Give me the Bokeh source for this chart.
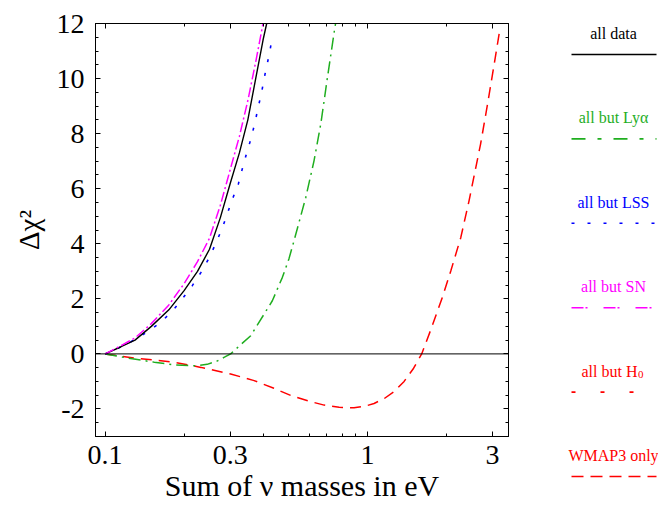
from bokeh.plotting import figure
from bokeh.layouts import row
from bokeh.models import (Range1d, FixedTicker, SingleIntervalTicker, LogAxis, LinearAxis,
                          CustomJSTickFormatter, Span, Label)
from bokeh.embed import file_html
from bokeh.resources import INLINE

# ---------------- data ----------------
all_data_m = [0.10, 0.115, 0.13, 0.15, 0.175, 0.20, 0.225, 0.25, 0.275, 0.30, 0.325, 0.35, 0.375, 0.40, 0.413]
all_data_chi2 = [0.0, 0.26, 0.50, 1.0, 1.6, 2.3, 3.0, 3.8, 4.95, 6.2, 7.3, 8.5, 10.0, 11.4, 12.0]

no_sn_m = [0.10, 0.115, 0.13, 0.15, 0.175, 0.20, 0.225, 0.25, 0.275, 0.30, 0.325, 0.35, 0.375, 0.40]
no_sn_chi2 = [0.0, 0.30, 0.58, 1.10, 1.78, 2.55, 3.35, 4.2, 5.4, 6.7, 7.9, 9.2, 10.6, 12.0]

no_lss_m = [0.10, 0.115, 0.13, 0.146, 0.164, 0.181, 0.198, 0.215, 0.232, 0.249, 0.264, 0.279,
            0.292, 0.306, 0.322, 0.334, 0.347, 0.361, 0.373, 0.384, 0.396, 0.407, 0.425, 0.434]
no_lss_chi2 = [0.0, 0.26, 0.52, 0.82, 1.17, 1.57, 2.03, 2.48, 2.96, 3.48, 4.01, 4.54,
               5.08, 5.63, 6.17, 6.75, 7.32, 7.86, 8.43, 8.98, 9.56, 10.16, 11.0, 11.55]

no_lya_m = [0.10, 0.127, 0.154, 0.183, 0.222, 0.245, 0.267, 0.285, 0.301, 0.324, 0.359, 0.404,
            0.434, 0.474, 0.502, 0.525, 0.582, 0.626, 0.664, 0.704, 0.750, 0.756]
no_lya_chi2 = [0.0, -0.18, -0.30, -0.40, -0.43, -0.38, -0.26, -0.12, 0.0, 0.28, 0.66, 1.45,
               1.93, 2.78, 3.45, 4.11, 5.68, 7.02, 8.35, 10.04, 11.8, 12.0]

wmap_m = [0.10, 0.129, 0.183, 0.232, 0.301, 0.370, 0.440, 0.510, 0.600, 0.684, 0.780, 0.889,
          0.980, 1.06, 1.16, 1.26, 1.38, 1.50, 1.61, 1.74, 1.93, 2.08, 2.27, 2.44, 2.70,
          2.87, 3.04, 3.20]
wmap_chi2 = [0.0, -0.15, -0.30, -0.49, -0.73, -0.97, -1.25, -1.51, -1.72, -1.86, -1.94, -1.96,
             -1.90, -1.80, -1.62, -1.38, -1.00, -0.52, 0.0, 0.85, 2.05, 3.02, 4.23, 5.56, 7.62,
             9.07, 10.5, 11.8]

x_ticks = [0.1, 0.3, 1, 3]
x_minor = [0.2, 0.4, 0.5, 0.6, 0.7, 0.8, 0.9, 2]

legend_labels = ["all data", "all but Ly\u03b1", "all but LSS", "all but SN", "all but H", "WMAP3 only"]
legend_subscripts = ["", "", "", "", "0", ""]

# ---------------- styles ----------------
FONT = "Liberation Serif"
BLACK = "#000000"
GREEN = "#1fae1f"
BLUE = "#0000ff"
MAGENTA = "#ff00ff"
RED = "#ff0000"

legend_colors = [BLACK, GREEN, BLUE, MAGENTA, RED, RED]
legend_dash = ["solid", "14 12 4 12", "3 13", "12 2 2 16", "4 25", "12 7"]

# ---------------- main figure ----------------
p = figure(frame_width=413, frame_height=413, x_axis_type="log",
           x_range=Range1d(0.0919, 3.45), y_range=Range1d(-3, 12),
           output_backend="svg", toolbar_location=None,
           min_border_left=95, min_border_right=12, min_border_top=23, min_border_bottom=60)
p.frame_align = False
p.background_fill_color = "white"
p.border_fill_color = "white"
p.outline_line_color = "black"
p.outline_line_width = 1
p.xgrid.visible = False
p.ygrid.visible = False

xt = FixedTicker(ticks=x_ticks, minor_ticks=x_minor)
p.xaxis.ticker = xt
p.xaxis.formatter = CustomJSTickFormatter(code="return tick.toString();")
p.yaxis.ticker = SingleIntervalTicker(interval=2, num_minor_ticks=4)
p.yaxis.formatter = CustomJSTickFormatter(code="return tick.toFixed(0);")

for ax in (p.xaxis[0], p.yaxis[0]):
    ax.major_tick_in = 5
    ax.major_tick_out = 0
    ax.minor_tick_in = 3
    ax.minor_tick_out = 0
    ax.axis_line_color = "black"
    ax.major_label_text_font = FONT
    ax.major_label_text_font_size = "28px"
    ax.major_label_text_color = "black"
    ax.axis_label_text_font = FONT
    ax.axis_label_text_font_style = "normal"
    ax.axis_label_text_color = "black"

p.xaxis.major_label_standoff = 9
p.xaxis.axis_label = "Sum of \u03bd masses in eV"
p.xaxis.axis_label_text_font_size = "30px"
p.xaxis.axis_label_standoff = 2
p.yaxis.major_label_standoff = 11
p.yaxis.axis_label = "\u0394\u03c7\u00b2"
p.yaxis.axis_label_text_font_size = "29px"
p.yaxis.axis_label_standoff = 9

# mirrored axes (ticks only)
top = LogAxis(ticker=xt, formatter=CustomJSTickFormatter(code="return '';"))
right = LinearAxis(ticker=SingleIntervalTicker(interval=2, num_minor_ticks=4),
                   formatter=CustomJSTickFormatter(code="return '';"))
for ax in (top, right):
    ax.major_tick_in = 5
    ax.major_tick_out = 0
    ax.minor_tick_in = 3
    ax.minor_tick_out = 0
    ax.major_label_standoff = 0
    ax.major_label_text_font_size = "1px"
p.add_layout(top, "above")
p.add_layout(right, "right")

# zero line
p.add_layout(Span(location=0, dimension="width", line_color="black", line_width=1))

# curves
p.line(wmap_m, wmap_chi2, line_color=RED, line_width=1.5, line_dash="11 7")
p.line(no_lya_m, no_lya_chi2, line_color=GREEN, line_width=1.5, line_dash="12 5 2 5")
p.line(no_lss_m, no_lss_chi2, line_color=BLUE, line_width=1.6, line_dash="3 11")
p.line(all_data_m, all_data_chi2, line_color=BLACK, line_width=1.4)
p.line(no_sn_m, no_sn_chi2, line_color=MAGENTA, line_width=1.5, line_dash="10 3 2 3")

# ---------------- legend panel ----------------
LG_X0 = 520
LG_W, LG_H = 138, 500
lg = figure(frame_width=LG_W, frame_height=LG_H,
            x_range=Range1d(LG_X0, LG_X0 + LG_W), y_range=Range1d(LG_H, 0),
            output_backend="svg", toolbar_location=None,
            x_axis_location=None, y_axis_location=None,
            min_border=0, min_border_left=0, min_border_right=0, min_border_top=0, min_border_bottom=0)
lg.frame_align = False
lg.outline_line_color = None
lg.xgrid.visible = False
lg.ygrid.visible = False
lg.background_fill_color = "white"
lg.border_fill_color = "white"

TEXT_Y0 = 33
LINE_Y0 = 54
STEP = 84.4
TEXT_X = 613
LINE_X0, LINE_X1 = 571, 656
for i, (lab, sub, col, dash) in enumerate(zip(legend_labels, legend_subscripts, legend_colors, legend_dash)):
    ty = TEXT_Y0 + i * STEP
    ly = LINE_Y0 + i * STEP
    if sub:
        lg.add_layout(Label(x=TEXT_X + 24, y=ty, text=lab, text_font=FONT, text_font_size="16px",
                            text_align="right", text_baseline="alphabetic", text_color=col))
        lg.add_layout(Label(x=TEXT_X + 24.5, y=ty + 3, text=sub, text_font=FONT, text_font_size="11px",
                            text_align="left", text_baseline="alphabetic", text_color=col))
    else:
        lg.add_layout(Label(x=TEXT_X, y=ty, text=lab, text_font=FONT, text_font_size="16px",
                            text_align="center", text_baseline="alphabetic", text_color=col))
    lg.line([LINE_X0, LINE_X1], [ly, ly], line_color=col, line_width=1.6, line_dash=dash)

layout = row(p, lg)
open("out.html", "w").write(file_html(layout, INLINE))
